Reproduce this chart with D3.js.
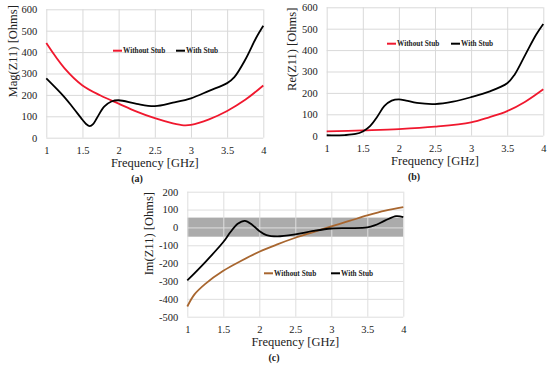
<!DOCTYPE html>
<html>
<head>
<meta charset="utf-8">
<script src="https://cdnjs.cloudflare.com/ajax/libs/d3/7.8.5/d3.min.js"></script>
<style>
  body { margin: 0; background: #fff; }
  svg { display: block; font-family: "Liberation Serif", "Times New Roman", serif; }
</style>
</head>
<body>
<div id="chart"></div>
<script>
// x ticks (GHz) shared by all three panels
const freqTicks = [1, 1.5, 2, 2.5, 3, 3.5, 4];

// (a) Mag(Z11)
const magFreqWithout = [1, 1.25, 1.5, 1.75, 2, 2.25, 2.5, 2.75, 2.9, 3, 3.25, 3.5, 3.75, 4];
const magWithout = [442, 325, 244, 197, 159, 122, 91, 67, 58, 60, 86, 125, 177, 244];
const magFreqWith = [1, 1.25, 1.37, 1.5, 1.55, 1.6, 1.65, 1.7, 1.8, 1.9, 2, 2.25, 2.5, 2.75, 3, 3.25, 3.5, 3.6, 3.75, 3.9, 4];
const magWith = [277, 190, 140, 84, 64, 54, 65, 92, 145, 169, 175, 158, 148, 164, 184, 219, 255, 283, 364, 466, 523];
const magTicks = [0, 100, 200, 300, 400, 500, 600];

// (b) Re(Z11)
const reFreqWithout = [1, 1.5, 2, 2.5, 3, 3.25, 3.5, 3.75, 4];
const reWithout = [20, 25, 31, 42, 62, 86, 115, 159, 217];
const reFreqWith = [1, 1.25, 1.4, 1.5, 1.6, 1.7, 1.8, 1.9, 2, 2.1, 2.25, 2.5, 2.75, 3, 3.25, 3.5, 3.6, 3.75, 3.9, 4];
const reWith = [2, 3, 8, 20, 45, 89, 139, 164, 170, 164, 153, 148, 159, 180, 206, 245, 284, 378, 472, 522];
const reTicks = [0, 100, 200, 300, 400, 500, 600];

// (c) Im(Z11)
const imFreqWithout = [1, 1.1, 1.25, 1.5, 1.75, 2, 2.25, 2.5, 2.75, 3, 3.25, 3.5, 3.75, 4];
const imWithout = [-443, -375, -316, -243, -187, -136, -95, -58, -26, 6, 36, 67, 94, 114];
const imFreqWith = [1, 1.25, 1.5, 1.6, 1.7, 1.8, 1.9, 2, 2.1, 2.25, 2.5, 2.75, 3, 3.25, 3.5, 3.6, 3.75, 3.9, 4];
const imWith = [-297, -194, -82, -26, 20, 37, 15, -20, -43, -50, -39, -20, -6, -4, 0, 11, 39, 63, 58];
const imTicks = [-500, -400, -300, -200, -100, 0, 100, 200];
const imBand = [-52, 55];

const seriesNames = ["Without Stub", "With Stub"];

const serif = "'Liberation Serif', 'Times New Roman', serif";

const svg = d3.select("#chart").append("svg").attr("width", 550).attr("height", 367);

const zip = (xs, ys) => xs.map((x, i) => [x, ys[i]]);

function drawPanel(p) {
    const w = p.right - p.left, h = p.bottom - p.top;
    const x = d3.scaleLinear().domain([1, 4]).range([0, w]);
    const y = d3.scaleLinear().domain(d3.extent(p.yTicks)).range([h, 0]);
    const g = svg.append("g").attr("transform", `translate(${p.left},${p.top})`);

    // bande grise (c)
    if (p.band) {
        g.append("rect")
            .attr("x", 0).attr("width", w)
            .attr("y", y(p.band[1]))
            .attr("height", y(p.band[0]) - y(p.band[1]))
            .attr("fill", "#ababab");
    }

    const yAxis = g.append("g")
        .call(d3.axisLeft(y).tickValues(p.yTicks).tickSize(-w).tickPadding(9).tickFormat(d => String(d)));
    const xAxis = g.append("g").attr("transform", `translate(0,${h})`)
        .call(d3.axisBottom(x).tickValues(freqTicks).tickSize(-h).tickPadding(9).tickFormat(d => String(d)));

    [xAxis, yAxis].forEach(a => {
        a.attr("font-family", serif);
        a.select(".domain").remove();
        a.selectAll(".tick line").attr("stroke", p.band ? "#dedede" : "#d9d9d9").attr("stroke-width", 1);
        a.selectAll(".tick text")
            .attr("fill", "#222")
            .style("font-family", serif)
            .style("font-size", "10.5px");
    });

    const line = d3.line()
        .x(d => x(d[0]))
        .y(d => y(d[1]))
        .curve(d3.curveCatmullRom.alpha(0.5));

    p.series.forEach(s => {
        g.append("path")
            .datum(s.data)
            .attr("d", line)
            .attr("fill", "none")
            .attr("stroke", s.color)
            .attr("stroke-width", 1.8);
    });

    // légende
    p.series.forEach((s, i) => {
        const lx = p.legend[i][0] - p.left, ly = p.legend[i][1] - p.top;
        g.append("line")
            .attr("x1", lx).attr("x2", lx + 9)
            .attr("y1", ly).attr("y2", ly)
            .attr("stroke", s.color).attr("stroke-width", 2);
        g.append("text")
            .attr("x", lx + 10).attr("y", ly)
            .attr("dy", "0.35em")
            .style("font-family", serif)
            .style("font-size", "7.3px")
            .style("font-weight", "bold")
            .attr("fill", "#222")
            .text(s.name);
    });

    // titres
    svg.append("text")
        .attr("transform", `translate(${p.left - p.yTitleOffset},${p.top + 42}) rotate(-90)`)
        .attr("text-anchor", "middle")
        .attr("dy", "0.35em")
        .style("font-family", serif)
        .style("font-size", "12.5px")
        .attr("fill", "#222")
        .text(p.yTitle);

    svg.append("text")
        .attr("x", p.left + w / 2)
        .attr("y", p.bottom + 25)
        .attr("text-anchor", "middle")
        .attr("dy", "0.35em")
        .style("font-family", serif)
        .style("font-size", "12.5px")
        .attr("fill", "#222")
        .text("Frequency [GHz]");

    svg.append("text")
        .attr("x", p.tagX)
        .attr("y", p.bottom + 41)
        .attr("text-anchor", "middle")
        .attr("dy", "0.35em")
        .style("font-family", serif)
        .style("font-size", "10px")
        .style("font-weight", "bold")
        .attr("fill", "#222")
        .text(p.tag);
}

drawPanel({
    left: 46.3, right: 263.3, top: 9.3, bottom: 137.7,
    yTicks: magTicks, yTitle: "Mag(Z11) [Ohms]", yTitleOffset: 34,
    tag: "(a)", tagX: 137,
    legend: [[113, 50.7], [176, 50.7]],
    series: [
        { name: seriesNames[0], color: "#f0182e", data: zip(magFreqWithout, magWithout) },
        { name: seriesNames[1], color: "#000", data: zip(magFreqWith, magWith) }
    ]
});

drawPanel({
    left: 326.7, right: 543.3, top: 7.3, bottom: 135.7,
    yTicks: reTicks, yTitle: "Re(Z11) [Ohms]", yTitleOffset: 35,
    tag: "(b)", tagX: 414,
    legend: [[387, 43.7], [451, 43.7]],
    series: [
        { name: seriesNames[0], color: "#f0182e", data: zip(reFreqWithout, reWithout) },
        { name: seriesNames[1], color: "#000", data: zip(reFreqWith, reWith) }
    ]
});

drawPanel({
    left: 187.3, right: 403.3, top: 191.7, bottom: 316.7,
    yTicks: imTicks, yTitle: "Im(Z11) [Ohms]", yTitleOffset: 39,
    tag: "(c)", tagX: 274, band: imBand,
    legend: [[264, 273.3], [331, 273.3]],
    series: [
        { name: seriesNames[0], color: "#a8662f", data: zip(imFreqWithout, imWithout) },
        { name: seriesNames[1], color: "#000", data: zip(imFreqWith, imWith) }
    ]
});
</script>
</body>
</html>
